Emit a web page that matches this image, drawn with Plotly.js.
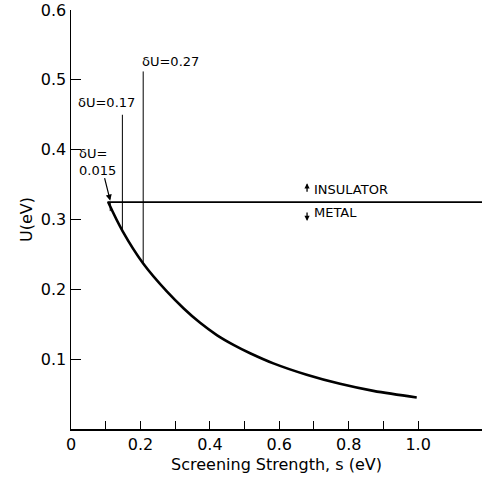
<!DOCTYPE html>
<html>
<head>
<meta charset="utf-8">
<script src="https://cdn.plot.ly/plotly-3.0.1.min.js"></script>
<style>html,body{margin:0;padding:0;background:#fff;}</style>
</head>
<body>
<div id="chart" style="width:482px;height:479px;"></div>
<script>
// Phase boundary curve U(s)
const screening = [0.107, 0.149, 0.208, 0.276, 0.324, 0.372, 0.420, 0.468, 0.516, 0.583, 0.679, 0.775, 0.871, 0.996];
const uValues   = [0.325, 0.283, 0.237, 0.197, 0.173, 0.152, 0.1345, 0.1205, 0.1085, 0.094, 0.0777, 0.0647, 0.0546, 0.0452];

// Insulator / metal boundary
const boundaryS = [0.105, 1.184];
const boundaryU = [0.325, 0.325];

// delta-U markers: position, lower end (on curve), upper end
const deltaLabels = ["δU=0.17", "δU=0.27", "δU=<br>0.015"];
const deltaS    = [0.148, 0.208, 0.113];
const deltaLow  = [0.283, 0.237, 0.312];
const deltaHigh = [0.450, 0.512, 0.325];

// Axis ticks
const xTickVals = [0, 0.1, 0.2, 0.3, 0.4, 0.5, 0.6, 0.7, 0.8, 0.9, 1.0];
const xTickText = ["0", "", "0.2", "", "0.4", "", "0.6", "", "0.8", "", "1.0"];
const yTickVals = [0.1, 0.2, 0.3, 0.4, 0.5, 0.6];
const yTickText = ["0.1", "0.2", "0.3", "0.4", "0.5", "0.6"];

const FONT = "DejaVu Sans, Arial, sans-serif";

const traces = [
  {x: screening, y: uValues, mode: "lines", line: {color: "#000", width: 2.6, shape: "spline", smoothing: 1}, hoverinfo: "skip"},
  {x: boundaryS, y: boundaryU, mode: "lines", line: {color: "#000", width: 1.8}, hoverinfo: "skip"}
];
for (let i = 0; i < deltaS.length; i++) {
  traces.push({x: [deltaS[i], deltaS[i]], y: [deltaLow[i], deltaHigh[i]], mode: "lines",
    line: {color: "#000", width: 1}, hoverinfo: "skip"});
}

const annotations = [
  {x: deltaS[0], y: deltaHigh[0], xref: "x", yref: "y", text: deltaLabels[0], showarrow: false,
   xanchor: "right", yanchor: "bottom", xshift: 15, yshift: 3, font: {family: FONT, size: 13, color: "#000"}},
  {x: deltaS[1], y: deltaHigh[1], xref: "x", yref: "y", text: deltaLabels[1], showarrow: false,
   xanchor: "center", yanchor: "bottom", xshift: 27, yshift: 0, font: {family: FONT, size: 13, color: "#000"}},
  {x: 0.075, y: 0.383, xref: "x", yref: "y", text: deltaLabels[2], showarrow: false, align: "left",
   xanchor: "center", yanchor: "middle", font: {family: FONT, size: 13, color: "#000"}},
  {x: deltaS[2], y: 0.327, xref: "x", yref: "y", text: "", showarrow: true, arrowhead: 2, arrowsize: 1,
   arrowwidth: 1.2, arrowcolor: "#000", ax: -6, ay: -24},
  {x: 0.68, y: 0.352, xref: "x", yref: "y", text: "", showarrow: true, arrowhead: 2, arrowsize: 0.8,
   arrowwidth: 1.3, arrowcolor: "#000", ax: 0, ay: 10},
  {x: 0.68, y: 0.298, xref: "x", yref: "y", text: "", showarrow: true, arrowhead: 2, arrowsize: 0.8,
   arrowwidth: 1.3, arrowcolor: "#000", ax: 0, ay: -10},
  {x: 0.693, y: 0.3424, xref: "x", yref: "y", text: "INSULATOR", showarrow: false,
   xanchor: "left", yanchor: "middle", font: {family: FONT, size: 13, color: "#000"}},
  {x: 0.693, y: 0.3095, xref: "x", yref: "y", text: "METAL", showarrow: false,
   xanchor: "left", yanchor: "middle", font: {family: FONT, size: 13, color: "#000"}}
];

const layout = {
  width: 482, height: 479,
  margin: {l: 71, r: 0, t: 10, b: 50},
  paper_bgcolor: "#fff", plot_bgcolor: "#fff",
  showlegend: false,
  font: {family: FONT, color: "#000"},
  xaxis: {
    range: [0, 1.184], tickmode: "array", tickvals: xTickVals, ticktext: xTickText,
    ticks: "inside", ticklen: 8, tickwidth: 1, tickcolor: "#000",
    showline: true, linecolor: "#000", linewidth: 1.5, showgrid: false, zeroline: false,
    tickfont: {family: FONT, size: 16, color: "#000"},
    title: {text: "Screening Strength, s (eV)", font: {family: FONT, size: 16, color: "#000"}, standoff: 6}
  },
  yaxis: {
    range: [0, 0.6], tickmode: "array", tickvals: yTickVals, ticktext: yTickText,
    ticks: "inside", ticklen: 10, tickwidth: 1, tickcolor: "#000",
    showline: true, linecolor: "#000", linewidth: 1.5, showgrid: false, zeroline: false,
    tickfont: {family: FONT, size: 16, color: "#000"},
    title: {text: "U(eV)", font: {family: FONT, size: 16, color: "#000"}, standoff: 4}
  },
  annotations: annotations
};

Plotly.newPlot("chart", traces, layout, {displayModeBar: false, staticPlot: true});
</script>
</body>
</html>
